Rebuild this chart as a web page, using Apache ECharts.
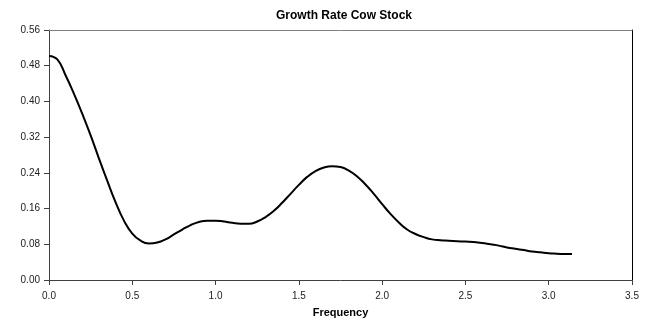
<!DOCTYPE html>
<html><head><meta charset="utf-8">
<script src="https://cdn.jsdelivr.net/npm/echarts@6/dist/echarts.min.js"></script>
<style>html,body{margin:0;padding:0;background:#fff}#c{width:655px;height:326px}</style>
</head><body><div id="c"></div>
<script>
var titleText = "Growth Rate Cow Stock";
var xAxisName = "Frequency";
var frequency = [0.0,0.05,0.1,0.15,0.2,0.25,0.3,0.35,0.4,0.45,0.5,0.55,0.6,0.65,0.7,0.75,0.8,0.85,0.9,0.95,1.0,1.05,1.1,1.15,1.2,1.25,1.3,1.35,1.4,1.45,1.5,1.55,1.6,1.65,1.7,1.75,1.8,1.85,1.9,1.95,2.0,2.05,2.1,2.15,2.2,2.25,2.3,2.35,2.4,2.45,2.5,2.55,2.6,2.65,2.7,2.75,2.8,2.85,2.9,2.95,3.0,3.05,3.1,3.14];
var growthRate = [0.502,0.494,0.458,0.417,0.372,0.324,0.272,0.222,0.174,0.133,0.104,0.088,0.082,0.084,0.091,0.102,0.113,0.123,0.130,0.133,0.133,0.131,0.128,0.126,0.126,0.131,0.141,0.155,0.173,0.193,0.213,0.231,0.244,0.252,0.255,0.253,0.245,0.232,0.214,0.193,0.170,0.148,0.129,0.113,0.103,0.096,0.091,0.089,0.088,0.087,0.086,0.085,0.083,0.080,0.077,0.073,0.070,0.067,0.064,0.062,0.060,0.059,0.058,0.058];
var yTicks = {min:0, max:0.56, interval:0.08};
var xTicks = {min:0, max:3.5, interval:0.5};

var pts = frequency.map(function(f,i){return [f, growthRate[i]];});
var chart = echarts.init(document.getElementById('c'), null, {renderer:'canvas'});
var font = 'Liberation Sans, Arial, sans-serif';
chart.setOption({
  animation:false,
  backgroundColor:'#fff',
  title:{text:titleText, left:339, top:5, textAlign:'center',
    textStyle:{fontFamily:font, fontSize:12, fontWeight:'bold', color:'#000'}},
  grid:{left:49, right:23, top:30, bottom:46, containLabel:false},
  xAxis:[{type:'value', min:xTicks.min, max:xTicks.max, interval:xTicks.interval,
    name:xAxisName, nameLocation:'middle', nameGap:27,
    nameTextStyle:{fontFamily:font, fontSize:11, fontWeight:'bold', color:'#000'},
    axisLine:{show:true, onZero:false, lineStyle:{color:'#404040', width:1}},
    axisTick:{show:true, length:5, lineStyle:{color:'#404040'}},
    axisLabel:{fontFamily:font, fontSize:10, color:'#222', margin:11,
      formatter:function(v){return v.toFixed(1);}},
    splitLine:{show:false}},
   {type:'value', position:'top', min:xTicks.min, max:xTicks.max,
    axisLine:{show:true, onZero:false, lineStyle:{color:'#808080', width:1}},
    axisTick:{show:false}, axisLabel:{show:false}, splitLine:{show:false}}],
  yAxis:[{type:'value', min:yTicks.min, max:yTicks.max, interval:yTicks.interval,
    axisLine:{show:true, onZero:false, lineStyle:{color:'#404040', width:1}},
    axisTick:{show:true, length:5, lineStyle:{color:'#404040'}},
    axisLabel:{fontFamily:font, fontSize:10, color:'#222', margin:9,
      formatter:function(v){return v.toFixed(2);}},
    splitLine:{show:false}},
   {type:'value', position:'right', min:yTicks.min, max:yTicks.max,
    axisLine:{show:true, onZero:false, lineStyle:{color:'#000', width:1}},
    axisTick:{show:false}, axisLabel:{show:false}, splitLine:{show:false}}],
  series:[{type:'line', data:pts, smooth:0.5, showSymbol:false, symbol:'none',
    lineStyle:{color:'#000', width:2}}]
});
</script></body></html>
